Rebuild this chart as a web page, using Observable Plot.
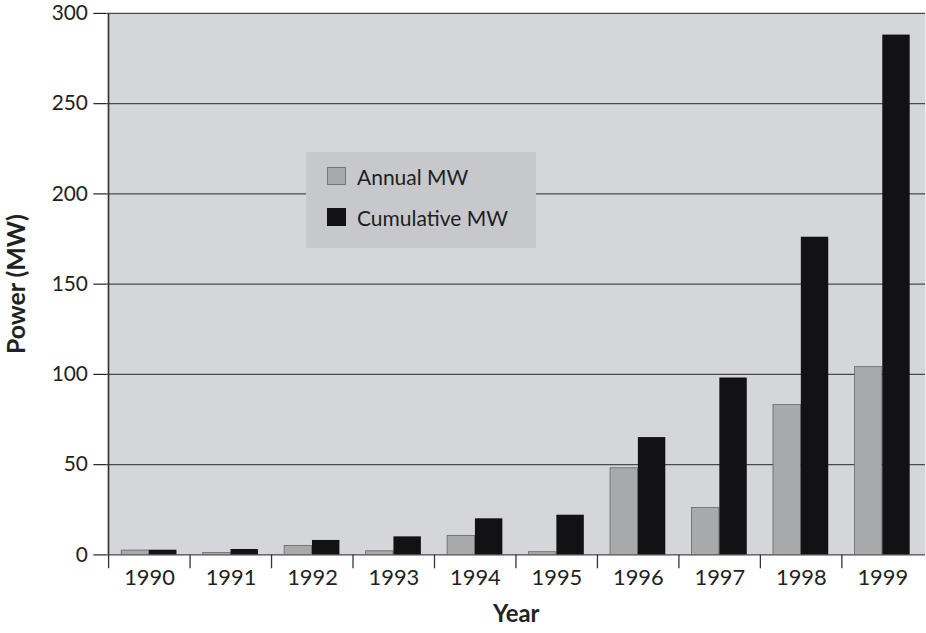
<!DOCTYPE html>
<html>
<head>
<meta charset="utf-8">
<script src="https://cdn.jsdelivr.net/npm/d3@7"></script>
<script src="https://cdn.jsdelivr.net/npm/@observablehq/plot@0.6"></script>
<style>
  html, body { margin: 0; padding: 0; background: #ffffff; overflow: hidden; }
  #wrap { position: relative; width: 926px; height: 633px; overflow: hidden; }
  #legend {
    position: absolute; left: 306px; top: 152px; width: 230px; height: 96px;
    background: #c7c8cb; font-family: Lato, sans-serif; font-size: 21px; color: #1e1e22;
  }
  .item { position: absolute; left: 21px; display: flex; align-items: center; height: 20px; }
  .sw { width: 19px; height: 18px; box-sizing: border-box; margin-right: 11px; }
</style>
</head>
<body>
<div id="wrap"></div>
<script>
const years = ["1990","1991","1992","1993","1994","1995","1996","1997","1998","1999"];
const annualMW = [2.4, 1.0, 5.0, 2.0, 10.5, 1.5, 48, 26, 83, 104];
const cumulativeMW = [2.6, 3.0, 8.0, 10.0, 20.0, 22.0, 65, 98, 176, 288];
const yTicks = [0, 50, 100, 150, 200, 250, 300];
const seriesNames = ["Annual MW", "Cumulative MW"];
const seriesColors = ["#a8a9ab", "#121214"];

const table = years.map((year, i) => ({year, annual: annualMW[i], cumulative: cumulativeMW[i]}));

const W = 932, ML = 107, MR = 1;
const bw = (W - ML - MR) / years.length;

const chart = Plot.plot({
  width: W,
  height: 633,
  marginLeft: ML,
  marginRight: MR,
  marginTop: 13,
  marginBottom: 75,
  style: {fontFamily: "Lato, sans-serif", background: "transparent", color: "#222"},
  x: {type: "band", domain: years, padding: 0},
  y: {domain: [0, 300], ticks: yTicks},
  marks: [
    Plot.frame({fill: "#d5d6d9", stroke: null}),
    Plot.gridY(yTicks, {stroke: "#4a4a4e", strokeOpacity: 1, strokeWidth: 1.2}),
    Plot.barY(table, {x: "year", y: "annual", fill: seriesColors[0], stroke: "#666", strokeWidth: 0.8,
      insetLeft: 13, insetRight: bw - 41}),
    Plot.barY(table, {x: "year", y: "cumulative", fill: seriesColors[1],
      insetLeft: 41, insetRight: bw - 69}),
    Plot.ruleX([years[0]], {x: d => d, dx: -bw / 2, stroke: "#333", strokeWidth: 1.5}),
    Plot.ruleX(years, {x: d => d, dx: -bw / 2, y1: 0, y2: 0, insetBottom: -14, stroke: "#333", strokeWidth: 1.3}),
    Plot.axisY({ticks: yTicks, tickSize: 13, tickPadding: 6, fontSize: 21, label: null, strokeWidth: 1.2}),
    Plot.axisX({tickSize: 0, tickPadding: 15, fontSize: 22, label: null}),
    Plot.text(["Power (MW)"], {text: d => d, frameAnchor: "left", rotate: -90, dx: -90,
      textAnchor: "middle", lineAnchor: "middle",
      fontSize: 25, fontWeight: "bold", fill: "#222"}),
    Plot.text(["Year"], {text: d => d, frameAnchor: "bottom", dy: 60,
      textAnchor: "middle", lineAnchor: "middle",
      fontSize: 24, fontWeight: "bold", fill: "#222"})
  ]
});

const wrap = document.getElementById("wrap");
wrap.appendChild(chart);

const legend = document.createElement("div");
legend.id = "legend";
seriesNames.forEach((name, i) => {
  const item = document.createElement("div");
  item.className = "item";
  item.style.top = (i === 0 ? 14 : 55) + "px";
  const sw = document.createElement("div");
  sw.className = "sw";
  sw.style.background = seriesColors[i];
  sw.style.border = i === 0 ? "1px solid #777" : "none";
  const lab = document.createElement("span");
  lab.textContent = name;
  item.appendChild(sw);
  item.appendChild(lab);
  legend.appendChild(item);
});
wrap.appendChild(legend);
</script>
</body>
</html>
